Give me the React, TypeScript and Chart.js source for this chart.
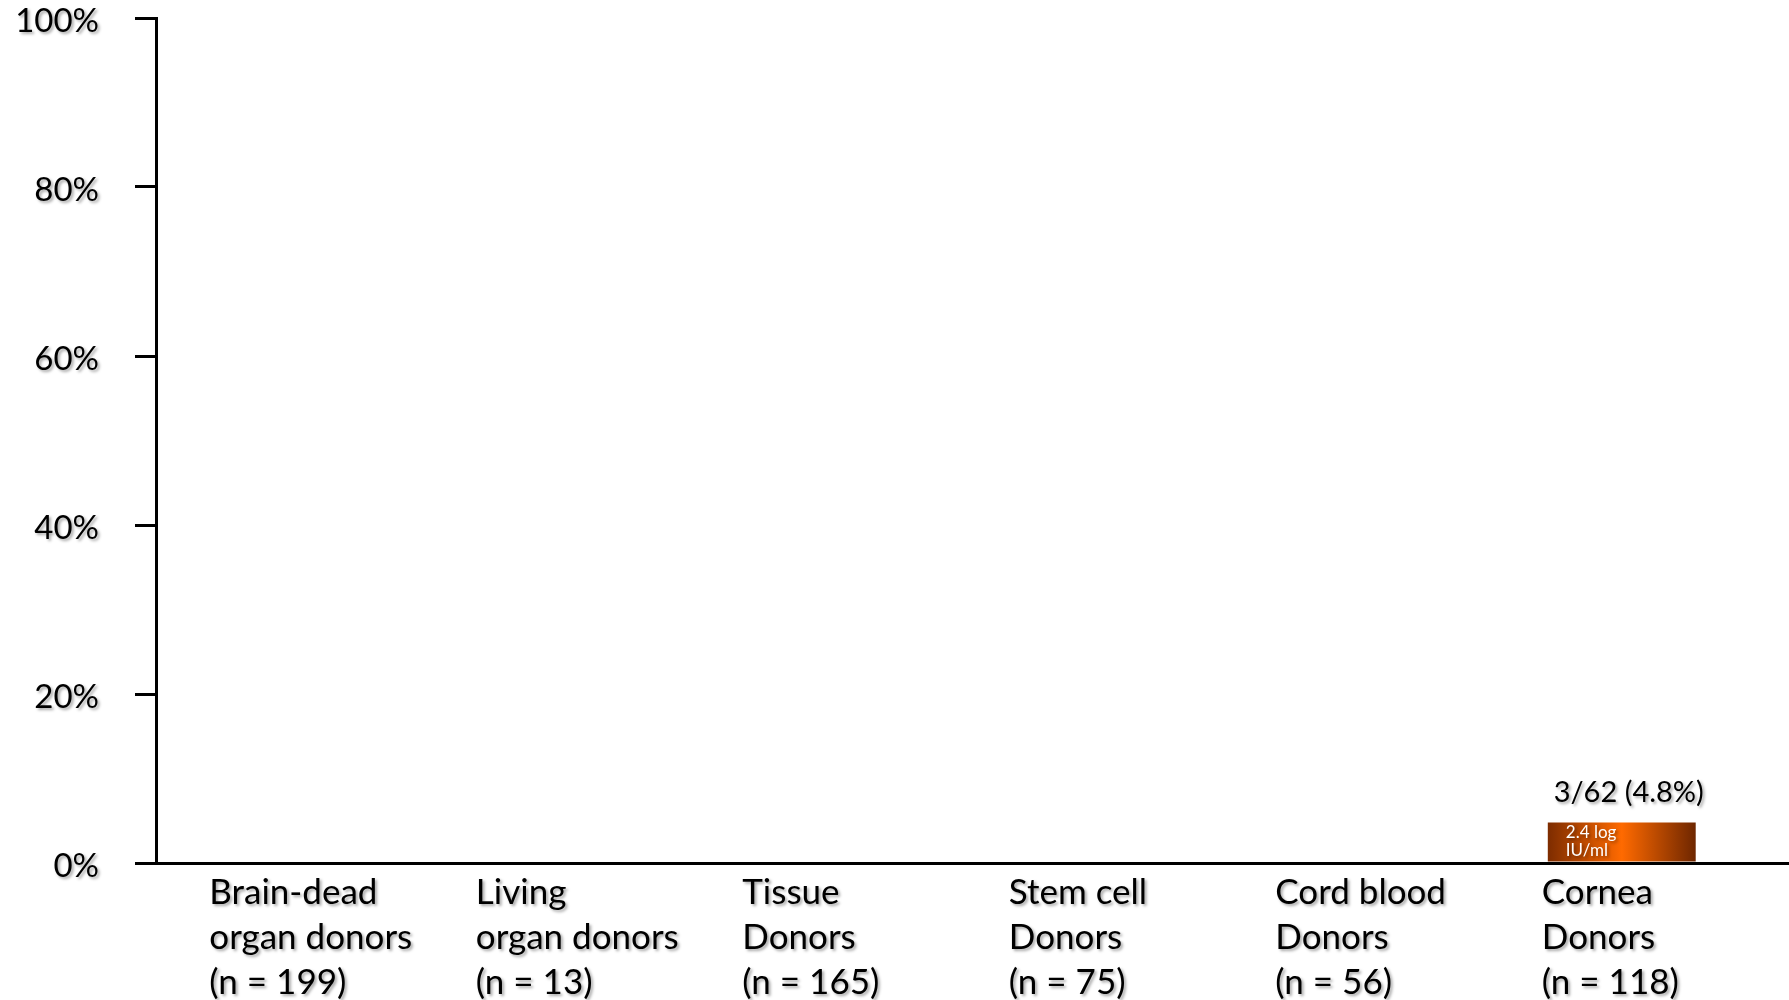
import React, { useEffect, useRef } from "react";
import { Chart, registerables } from "chart.js";

Chart.register(...registerables);

// Donor groups along the x axis (each label is drawn on several lines)
const categories: string[][] = [
  ["Brain-dead", "organ donors", "(n = 199)"],
  ["Living", "organ donors", "(n = 13)"],
  ["Tissue", "Donors", "(n = 165)"],
  ["Stem cell", "Donors", "(n = 75)"],
  ["Cord blood", "Donors", "(n = 56)"],
  ["Cornea", "Donors", "(n = 118)"],
];

// Share of positive donors per group, in percent
const positivePct: number[] = [0, 0, 0, 0, 0, 4.8];

// Labels written on / above the bar of each group
const countLabels: (string | null)[] = [null, null, null, null, null, "3/62 (4.8%)"];
const loadLabels: (string[] | null)[] = [null, null, null, null, null, ["2.4 log", "IU/ml"]];

// Y axis ticks, in percent
const yTicks: number[] = [0, 20, 40, 60, 80, 100];

const FONT = "Lato, 'Open Sans', sans-serif";
const AXIS_WIDTH = 3;

function withShadow(ctx: CanvasRenderingContext2D, fn: () => void) {
  ctx.save();
  ctx.shadowColor = "rgba(0,0,0,0.35)";
  ctx.shadowOffsetX = 2;
  ctx.shadowOffsetY = 2;
  ctx.shadowBlur = 3;
  fn();
  ctx.restore();
}

const textPlugin = {
  id: "slideText",
  afterDraw(chart: any) {
    const ctx: CanvasRenderingContext2D = chart.ctx;
    const x = chart.scales.x;
    const y = chart.scales.y;
    const area = chart.chartArea;
    const catW = area.width / categories.length;
    const axisY = y.getPixelForValue(0);

    // the baseline runs on to the right edge of the page (pixel-aligned like the axis border)
    const half = AXIS_WIDTH / 2;
    const lineY = Math.round(area.bottom - half) + half;
    ctx.save();
    ctx.strokeStyle = "#000";
    ctx.lineWidth = AXIS_WIDTH;
    ctx.beginPath();
    ctx.moveTo(area.right - 2, lineY);
    ctx.lineTo(chart.width, lineY);
    ctx.stroke();
    ctx.restore();

    withShadow(ctx, () => {
      // y tick labels
      ctx.fillStyle = "#000";
      ctx.font = `33px ${FONT}`;
      ctx.textAlign = "right";
      ctx.textBaseline = "middle";
      yTicks.forEach((v) => {
        ctx.fillText(`${v}%`, 99, y.getPixelForValue(v) + 3);
      });

      // category labels, left aligned under each group
      ctx.font = `35px ${FONT}`;
      ctx.textAlign = "left";
      categories.forEach((lines, i) => {
        const left = x.getPixelForValue(i) - catW * 0.3;
        lines.forEach((line, k) => {
          ctx.fillText(line, left, axisY + 30 + k * 45);
        });
      });

      // values above / inside the bars
      const meta = chart.getDatasetMeta(0);
      positivePct.forEach((_, i) => {
        const bar = meta.data[i];
        if (!bar) return;
        const count = countLabels[i];
        if (count) {
          ctx.fillStyle = "#000";
          ctx.font = `29px ${FONT}`;
          ctx.textAlign = "center";
          ctx.textBaseline = "alphabetic";
          ctx.fillText(count, bar.x + 7, bar.y - 20);
        }
        const load = loadLabels[i];
        if (load) {
          ctx.fillStyle = "#fff";
          ctx.font = `17px ${FONT}`;
          ctx.textAlign = "left";
          ctx.textBaseline = "top";
          const left = bar.x - bar.width / 2 + 18;
          load.forEach((line, k) => {
            ctx.fillText(line, left, bar.y + 2 + k * 18);
          });
        }
      });
    });
  },
};

export default function App() {
  const canvasRef = useRef<HTMLCanvasElement | null>(null);

  useEffect(() => {
    const canvas = canvasRef.current;
    if (!canvas) return;
    const chart = new Chart(canvas, {
      type: "bar",
      data: {
        labels: categories.map((c) => c.join(" ")),
        datasets: [
          {
            data: positivePct,
            backgroundColor: (c: any) => {
              const ch = c.chart;
              const area = ch.chartArea;
              if (!area) return "#ff6600";
              const center = ch.scales.x.getPixelForValue(c.dataIndex);
              const half = ((area.width / categories.length) * 0.555) / 2;
              const g = ch.ctx.createLinearGradient(center - half, 0, center + half, 0);
              g.addColorStop(0, "#7d2c00");
              g.addColorStop(0.5, "#ff6a00");
              g.addColorStop(1, "#6e2600");
              return g;
            },
            borderWidth: 0,
            barPercentage: 0.555,
            categoryPercentage: 1,
          },
        ],
      },
      options: {
        responsive: false,
        animation: false,
        devicePixelRatio: 1,
        layout: { padding: { left: 135, top: 18, right: 34, bottom: 137 } },
        plugins: { legend: { display: false }, tooltip: { enabled: false } },
        scales: {
          x: {
            type: "category",
            offset: true,
            grid: { display: false },
            ticks: { display: false },
            border: { display: true, color: "#000", width: AXIS_WIDTH },
            afterFit: (s: any) => {
              s.height = 0;
            },
          },
          y: {
            min: 0,
            max: 100,
            ticks: { display: false, stepSize: 20 },
            grid: {
              drawOnChartArea: false,
              drawTicks: true,
              tickLength: 21,
              lineWidth: AXIS_WIDTH,
              color: "#000",
            },
            border: { display: true, color: "#000", width: AXIS_WIDTH },
            afterFit: (s: any) => {
              s.width = 21;
            },
          },
        },
      },
      plugins: [textPlugin],
    });
    return () => chart.destroy();
  }, []);

  return (
    <div style={{ position: "fixed", left: 0, top: 0, width: 1789, height: 1000, background: "#fff" }}>
      <canvas ref={canvasRef} width={1789} height={1000} />
    </div>
  );
}
